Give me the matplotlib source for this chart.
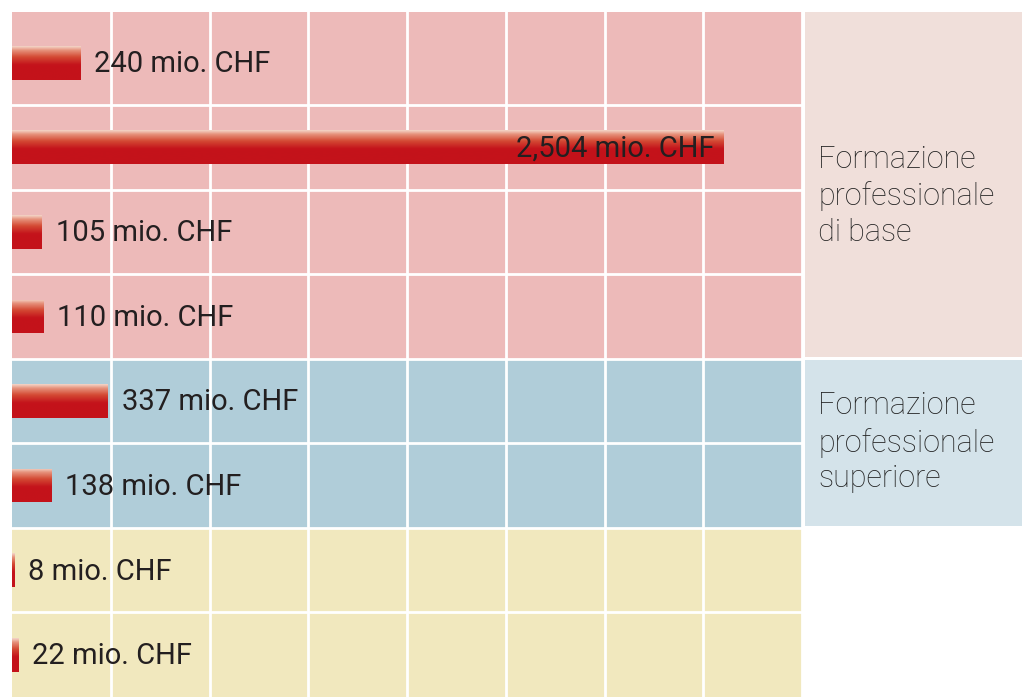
import numpy as np
import matplotlib
matplotlib.use("Agg")
import matplotlib.pyplot as plt
from matplotlib.colors import LinearSegmentedColormap
from matplotlib.patches import Rectangle

values = [240, 2504, 105, 110, 337, 138, 8, 22]
labels = ["240 mio. CHF", "2,504 mio. CHF", "105 mio. CHF", "110 mio. CHF",
          "337 mio. CHF", "138 mio. CHF", "8 mio. CHF", "22 mio. CHF"]
groups = ["Formazione\nprofessionale\ndi base", "Formazione\nprofessionale\nsuperiore", ""]
group_rows = [4, 2, 2]
band_colors = ["#edbab9", "#b0cdd9", "#f1e8be"]
box_colors = ["#f0dfda", "#d4e3ea", None]
TEXT_SHIFT = [0.13, -0.01, 0]

XMAX = 2782
TOP = -0.6
W, H = 1022, 697
fig = plt.figure(figsize=(W / 100, H / 100), dpi=100)
fig.patch.set_facecolor("white")

ax = fig.add_axes([12 / W, 0, 790 / W, 685 / H])
n = len(values)
ax.set_xlim(0, XMAX)
ax.set_ylim(n - 0.5, TOP)
ax.axis("off")

# background bands
start = 0
for g, cnt in enumerate(group_rows):
    lo = TOP if g == 0 else start - 0.5
    ax.axhspan(lo, start + cnt - 0.5, color=band_colors[g], zorder=0, lw=0)
    start += cnt
# grid lines
for xv in np.linspace(0, XMAX, 9)[1:]:
    ax.axvline(xv, color="white", lw=2, zorder=1)
for yv in np.arange(0.5, n - 0.5, 1):
    ax.axhline(yv, color="white", lw=2, zorder=1)

cmap = LinearSegmentedColormap.from_list(
    "bar", [(0, "#f5d8cc"), (0.12, "#e6927c"), (0.32, "#d44a34"), (0.55, "#c4131b"), (1, "#c4121a")])
grad = np.linspace(0, 1, 256).reshape(-1, 1)

bars = ax.barh(range(n), values, height=0.4, color="none", lw=0, zorder=2)
for b in bars:
    x0, y0 = b.get_x(), b.get_y()
    w, h = b.get_width(), b.get_height()
    im = ax.imshow(grad, cmap=cmap, aspect="auto", extent=(x0, x0 + w, y0 + h, y0),
                   zorder=2, interpolation="bicubic")
    im.set_clip_path(b)

ax.set_xlim(0, XMAX)
ax.set_ylim(n - 0.5, TOP)

for i, (v, lab) in enumerate(zip(values, labels)):
    if v > 1500:
        ax.annotate(lab, (v, i), xytext=(-6, -1), textcoords="offset points",
                    ha="right", va="center", fontsize=21, color="#231f20",
                    family="Roboto", fontweight="normal", zorder=3)
    else:
        ax.annotate(lab, (v, i), xytext=(10, -1), textcoords="offset points",
                    ha="left", va="center", fontsize=21, color="#231f20",
                    family="Roboto", fontweight="normal", zorder=3)

# right-side group boxes
ax2 = fig.add_axes([805 / W, 0, 217 / W, 685 / H])
ax2.set_xlim(0, 1)
ax2.set_ylim(n - 0.5, TOP)
ax2.axis("off")
start = 0
for g, cnt in enumerate(group_rows):
    if box_colors[g]:
        lo = TOP if g == 0 else start - 0.5 + 0.02
        hi = start + cnt - 0.5 - 0.02
        ax2.add_patch(Rectangle((0, lo), 1, hi - lo, facecolor=box_colors[g], lw=0))
        ax2.text(0.06, (lo + hi) / 2 + TEXT_SHIFT[g], groups[g], ha="left", va="center",
                 fontsize=22, color="#222222", family="Roboto", fontweight="light",
                 linespacing=1.3)
    start += cnt

fig.savefig("out.png", dpi=100, facecolor="white")
